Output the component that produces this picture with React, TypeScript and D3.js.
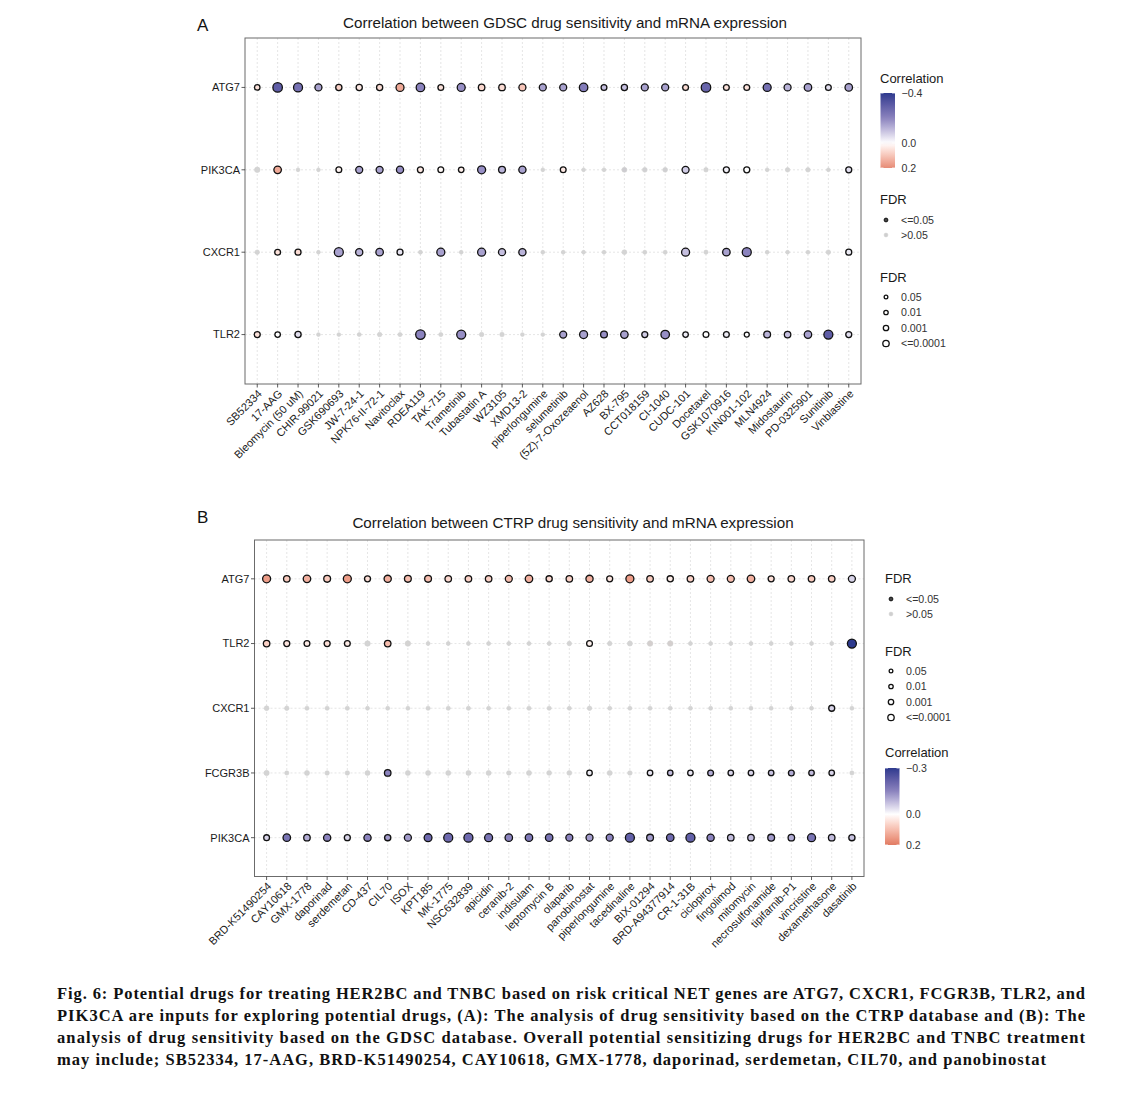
import React from 'react';
import * as d3 from 'd3';

// ---------- panel A : GDSC ----------
const gdscGenes = ['ATG7', 'PIK3CA', 'CXCR1', 'TLR2'];
const gdscDrugs = [
  'SB52334', '17-AAG', 'Bleomycin (50 uM)', 'CHIR-99021', 'GSK690693', 'JW-7-24-1',
  'NPK76-II-72-1', 'Navitoclax', 'RDEA119', 'TAK-715', 'Trametinib', 'Tubastatin A',
  'WZ3105', 'XMD13-2', 'piperlongumine', 'selumetinib', '(5Z)-7-Oxozeaenol', 'AZ628',
  'BX-795', 'CCT018159', 'CI-1040', 'CUDC-101', 'Docetaxel', 'GSK1070916',
  'KIN001-102', 'MLN4924', 'Midostaurin', 'PD-0325901', 'Sunitinib', 'Vinblastine',
];
// correlation, one row per gene (same order as gdscGenes)
const gdscCor = [
  [0.05, -0.3, -0.25, -0.15, 0.08, 0.04, 0.06, 0.15, -0.2, 0.05, -0.18, 0.07, 0.06, 0.1, -0.15, -0.15, -0.22, -0.1, -0.1, -0.15, -0.15, 0.06, -0.28, 0.05, 0.05, -0.25, -0.12, -0.15, -0.05, -0.15],
  [0, 0.15, 0, 0, 0.02, -0.15, -0.15, -0.18, 0.04, 0.01, 0.03, -0.18, -0.12, -0.15, 0, 0.04, 0, 0, -0.05, -0.02, -0.03, -0.08, 0, -0.02, 0, 0, 0, 0, 0, -0.05],
  [0, 0.05, 0.06, 0, -0.15, -0.12, -0.15, -0.04, 0, -0.15, 0, -0.15, -0.1, -0.12, 0, 0, 0, 0, 0, 0, 0, -0.1, 0, -0.15, -0.2, 0, 0, 0, 0, -0.03],
  [0.05, 0, -0.05, 0, 0, 0, 0, 0, -0.2, 0, -0.18, 0, 0, 0, 0, -0.15, -0.15, -0.18, -0.15, -0.08, -0.18, -0.03, 0, -0.03, 0, -0.12, -0.1, -0.15, -0.3, -0.05],
];
// -log10(FDR), drives the point size
const gdscLogFdr = [
  [2.5, 6.5, 6, 4, 3.2, 3.2, 3.2, 5, 5.5, 2.8, 5, 3.5, 3.5, 4, 4, 4, 5.5, 2.8, 3.2, 4, 4, 2.8, 6.5, 2.8, 2.8, 5, 4, 4.5, 2.8, 4.5],
  [2.5, 4.5, 0.8, 0.8, 2.8, 4, 4, 4.2, 3, 2.8, 2.5, 5, 3.8, 4.2, 0.8, 2.8, 0.8, 0.8, 2, 1.8, 1.8, 4, 1.5, 3, 3, 0.8, 1.5, 1.5, 0.8, 3],
  [1.5, 2.8, 3, 0.8, 6, 4.2, 4.5, 3, 1, 5, 0.8, 5, 4, 4.2, 0.8, 0.8, 0.8, 0.8, 1.8, 1, 1, 5, 1.2, 4.5, 6, 0.8, 0.8, 0.8, 1.5, 3],
  [3, 2.5, 3.2, 0.8, 0.8, 1, 1.5, 1.2, 6.5, 1.2, 6, 1.5, 1.5, 0.8, 0.8, 4, 5, 3.8, 4.5, 3, 5.5, 2.5, 2.8, 2.8, 2, 3.8, 3.5, 4.5, 6, 3],
];
// 1 = FDR <= 0.05
const gdscSig = [
  '111111111111111111111111111111',
  '010011111111110100000101100001',
  '011011110101110000000101100001',
  '111000001010000111111111111111',
];

// ---------- panel B : CTRP ----------
const ctrpGenes = ['ATG7', 'TLR2', 'CXCR1', 'FCGR3B', 'PIK3CA'];
const ctrpDrugs = [
  'BRD-K51490254', 'CAY10618', 'GMX-1778', 'daporinad', 'serdemetan', 'CD-437', 'CIL70',
  'ISOX', 'KPT185', 'MK-1775', 'NSC632839', 'apicidin', 'ceranib-2', 'indisulam',
  'leptomycin B', 'olaparib', 'panobinostat', 'piperlongumine', 'tacedinaline', 'BIX-01294',
  'BRD-A94377914', 'CR-1-31B', 'ciclopirox', 'fingolimod', 'mitomycin', 'necrosulfonamide',
  'tipifarnib-P1', 'vincristine', 'dexamethasone', 'dasatinib',
];
const ctrpCor = [
  [0.15, 0.08, 0.12, 0.08, 0.15, 0.05, 0.12, 0.1, 0.1, 0.06, 0.07, 0.07, 0.1, 0.12, 0.06, 0.07, 0.12, 0.04, 0.15, 0.08, 0.03, 0.07, 0.1, 0.1, 0.12, 0.05, 0.06, 0.08, 0.07, -0.05],
  [0.07, 0.04, 0.03, 0.05, 0.03, 0, 0.1, 0.01, 0, 0, 0, 0, 0, 0, 0, 0, 0.02, 0, 0, 0.03, 0.03, 0, 0, 0, 0, 0, 0, 0, 0, -0.3],
  [0, 0, 0, 0, 0, 0, 0, 0, 0, 0, 0, 0, 0, 0, 0, 0, 0, 0, 0, 0, 0, 0, 0, 0, 0, 0, 0, 0, -0.05, 0],
  [0, 0, 0, 0, 0, 0, -0.15, 0, 0, 0, 0, 0, 0, 0, 0, 0, -0.02, 0, 0, -0.03, -0.08, -0.03, -0.1, -0.05, -0.05, -0.07, -0.1, -0.08, -0.05, 0],
  [-0.05, -0.18, -0.1, -0.15, -0.05, -0.15, -0.12, -0.12, -0.2, -0.2, -0.2, -0.18, -0.15, -0.17, -0.18, -0.15, -0.12, -0.15, -0.22, -0.12, -0.2, -0.22, -0.15, -0.08, -0.08, -0.12, -0.1, -0.18, -0.08, -0.07],
];
const ctrpLogFdr = [
  [5, 3.5, 4.5, 3.8, 5, 3, 4.2, 3.8, 3.8, 3.5, 3.5, 3.5, 4, 4.5, 3.2, 3.5, 4.2, 3, 5, 3.5, 3.2, 3.5, 4, 4, 4.5, 3, 3.5, 3.5, 3.5, 4],
  [3.5, 3, 2.8, 3, 2.8, 2.5, 3.5, 2.5, 1, 1, 1, 1, 1, 1, 1, 1.5, 2.8, 1.5, 2, 2.5, 2.5, 1, 1, 1, 1, 1, 1, 1, 1, 6],
  [1.8, 1.5, 1.2, 1.2, 1.2, 1, 1, 1, 1.2, 1.2, 1.2, 1, 1, 1.2, 1.2, 1, 1.5, 1, 1, 1, 1, 1, 1, 1, 1, 1, 1, 1, 3, 1],
  [2.2, 1.2, 2, 1.5, 1.5, 2, 3.5, 2, 2, 2, 2, 2, 1.5, 2, 1.8, 1.8, 2.5, 2, 1.5, 2.5, 2.5, 2.5, 2.8, 2.5, 2.5, 2.5, 2.8, 2.5, 2.5, 1.2],
  [2.8, 4.5, 3.5, 4.2, 3, 4.2, 3.2, 4, 4.8, 6, 6, 5, 4.5, 4.5, 4.5, 4, 4, 4, 6, 3.8, 4.5, 6, 4.2, 3.5, 3.5, 3.8, 3.5, 5, 3.5, 3.2],
];
const ctrpSig = [
  '111111111111111111111111111111',
  '111110100000000010000000000001',
  '000000000000000000000000000010',
  '000000100000000010011111111110',
  '111111111111111111111111111111',
];

const sizeLabels = ['0.05', '0.01', '0.001', '<=0.0001'];
const sizeValues = [1.3, 2, 3, 4];
const sigLabels = ['<=0.05', '>0.05'];

const captionLines = [
  'Fig. 6: Potential drugs for treating HER2BC and TNBC based on risk critical NET genes are ATG7, CXCR1, FCGR3B, TLR2, and',
  'PIK3CA are inputs for exploring potential drugs, (A): The analysis of drug sensitivity based on the CTRP database and (B): The',
  'analysis of drug sensitivity based on the GDSC database. Overall potential sensitizing drugs for HER2BC and TNBC treatment',
  'may include; SB52334, 17-AAG, BRD-K51490254, CAY10618, GMX-1778, daporinad, serdemetan, CIL70, and panobinostat',
];
const captionWidths = [1028, 1028, 1028, 989];

const FONT = 'Liberation Sans, Arial, Helvetica, sans-serif';
const rScale = d3.scaleLinear().domain([0, 8]).range([1.5, 5.5]).clamp(true);

const colorA = d3.scaleLinear<string>()
  .domain([-0.4, -0.2, 0, 0.2])
  .range(['#2D3A8E', '#8B83BE', '#FFFFFF', '#E68C77'])
  .interpolate(d3.interpolateLab);
const colorB = d3.scaleLinear<string>()
  .domain([-0.3, -0.15, 0, 0.2])
  .range(['#2D3A8E', '#8B83BE', '#FFFFFF', '#E17A62'])
  .interpolate(d3.interpolateLab);

interface Box { left: number; right: number; top: number; bottom: number }

function DotPanel(props: {
  drugs: string[]; genes: string[]; cor: number[][]; logFdr: number[][]; sig: string[];
  box: Box; color: (v: number) => string;
}) {
  const { drugs, genes, cor, logFdr, sig, box, color } = props;
  const x = d3.scalePoint<string>().domain(drugs).range([box.left, box.right]).padding(0.6);
  const y = d3.scalePoint<string>().domain(genes).range([box.top, box.bottom]).padding(0.6);
  return (
    <g fontFamily={FONT}>
      {drugs.map(d => (
        <line key={'vx' + d} x1={x(d)} x2={x(d)} y1={box.top} y2={box.bottom}
          stroke="#d4d4d4" strokeWidth={0.6} strokeDasharray="2,2" />
      ))}
      {genes.map(g => (
        <line key={'hy' + g} x1={box.left} x2={box.right} y1={y(g)} y2={y(g)}
          stroke="#d4d4d4" strokeWidth={0.6} strokeDasharray="2,2" />
      ))}
      <rect x={box.left} y={box.top} width={box.right - box.left} height={box.bottom - box.top}
        fill="none" stroke="#6b6b6b" strokeWidth={1} />
      {genes.map((g, gi) => drugs.map((d, di) => {
        const s = sig[gi][di] === '1';
        const c = cor[gi][di];
        const r = rScale(logFdr[gi][di]);
        return s ? (
          <circle key={g + d} cx={x(d)} cy={y(g)} r={r} fill={color(c)} stroke="#111" strokeWidth={1.3} />
        ) : (
          <circle key={g + d} cx={x(d)} cy={y(g)} r={r}
            fill={d3.interpolateRgb('#c6c6c6', color(c))(0.25)} stroke="#d0d0d0" strokeWidth={0.6} />
        );
      }))}
      {genes.map(g => (
        <g key={'yt' + g}>
          <line x1={box.left - 3.5} x2={box.left} y1={y(g)} y2={y(g)} stroke="#333" strokeWidth={0.8} />
          <text x={box.left - 5} y={y(g)} dy="0.35em" textAnchor="end" fontSize={11} fill="#1a1a1a">{g}</text>
        </g>
      ))}
      {drugs.map(d => (
        <g key={'xt' + d}>
          <line x1={x(d)} x2={x(d)} y1={box.bottom} y2={box.bottom + 3.5} stroke="#333" strokeWidth={0.8} />
          <text transform={`translate(${x(d)},${box.bottom + 5}) rotate(-45)`} dy="0.7em"
            textAnchor="end" fontSize={11} fill="#1a1a1a">{d}</text>
        </g>
      ))}
    </g>
  );
}

function ColorBar(props: { id: string; x: number; y: number; h: number; color: any; lo: number; hi: number; ticks: number[] }) {
  const { id, x, y, h, color, lo, hi, ticks } = props;
  const s = d3.scaleLinear().domain([lo, hi]).range([y, y + h]);
  const stops = d3.range(0, 21).map(i => lo + (hi - lo) * i / 20);
  return (
    <g fontFamily={FONT}>
      <defs>
        <linearGradient id={id} x1="0" x2="0" y1="0" y2="1">
          {stops.map((v, i) => <stop key={i} offset={`${i * 5}%`} stopColor={color(v)} />)}
        </linearGradient>
      </defs>
      <rect x={x} y={y} width={14.5} height={h} fill={`url(#${id})`} />
      {ticks.map(t => (
        <g key={t}>
          <line x1={x} x2={x + 3} y1={s(t)} y2={s(t)} stroke="#fff" strokeWidth={0.8} />
          <line x1={x + 11.5} x2={x + 14.5} y1={s(t)} y2={s(t)} stroke="#fff" strokeWidth={0.8} />
          <text x={x + 21} y={s(t)} dy="0.35em" fontSize={10.6} fill="#333">
            {t < 0 ? '\u2212' + Math.abs(t).toFixed(1) : t.toFixed(1)}
          </text>
        </g>
      ))}
    </g>
  );
}

function SigLegend(props: { x: number; y: number }) {
  const { x, y } = props;
  return (
    <g fontFamily={FONT}>
      <text x={x} y={y} fontSize={13} fill="#1a1a1a">FDR</text>
      {sigLabels.map((l, i) => (
        <g key={l}>
          <circle cx={x + 6} cy={y + 16 + i * 15} r={1.9}
            fill={i === 0 ? '#444' : '#cfcfcf'} stroke={i === 0 ? '#111' : '#d0d0d0'} strokeWidth={i === 0 ? 1 : 0.6} />
          <text x={x + 21} y={y + 16 + i * 15} dy="0.35em" fontSize={10.6} fill="#333">{l}</text>
        </g>
      ))}
    </g>
  );
}

function SizeLegend(props: { x: number; y: number }) {
  const { x, y } = props;
  return (
    <g fontFamily={FONT}>
      <text x={x} y={y} fontSize={13} fill="#1a1a1a">FDR</text>
      {sizeLabels.map((l, i) => (
        <g key={l}>
          <circle cx={x + 6} cy={y + 15 + i * 15.5} r={rScale(sizeValues[i]) - 0.3}
            fill="#fff" stroke="#111" strokeWidth={1.3} />
          <text x={x + 21} y={y + 15 + i * 15.5} dy="0.35em" fontSize={10.6} fill="#333">{l}</text>
        </g>
      ))}
    </g>
  );
}

const boxA: Box = { left: 245, right: 861, top: 38, bottom: 384 };
const boxB: Box = { left: 254.5, right: 864, top: 540, bottom: 876.5 };

export default function App() {
  return (
    <svg width={1131} height={1095} style={{ position: 'absolute', left: 0, top: 0, background: '#fff' }}>
      <rect width={1131} height={1095} fill="#fff" />
      {/* panel A */}
      <text x={197} y={31} fontFamily={FONT} fontSize={17} fill="#111">A</text>
      <text x={565} y={28} textAnchor="middle" fontFamily={FONT} fontSize={15.2} fill="#1a1a1a">
        Correlation between GDSC drug sensitivity and mRNA expression
      </text>
      <DotPanel drugs={gdscDrugs} genes={gdscGenes} cor={gdscCor} logFdr={gdscLogFdr} sig={gdscSig} box={boxA} color={colorA} />
      <text x={880} y={83} fontFamily={FONT} fontSize={13} fill="#1a1a1a">Correlation</text>
      <ColorBar id="gradA" x={880.5} y={93} h={75} color={colorA} lo={-0.4} hi={0.2} ticks={[-0.4, 0, 0.2]} />
      <SigLegend x={880} y={204} />
      <SizeLegend x={880} y={282} />

      {/* panel B */}
      <text x={197} y={523} fontFamily={FONT} fontSize={17} fill="#111">B</text>
      <text x={573} y={528} textAnchor="middle" fontFamily={FONT} fontSize={15.2} fill="#1a1a1a">
        Correlation between CTRP drug sensitivity and mRNA expression
      </text>
      <DotPanel drugs={ctrpDrugs} genes={ctrpGenes} cor={ctrpCor} logFdr={ctrpLogFdr} sig={ctrpSig} box={boxB} color={colorB} />
      <SigLegend x={885} y={583} />
      <SizeLegend x={885} y={656} />
      <text x={885} y={757} fontFamily={FONT} fontSize={13} fill="#1a1a1a">Correlation</text>
      <ColorBar id="gradB" x={885} y={768} h={77} color={colorB} lo={-0.3} hi={0.2} ticks={[-0.3, 0, 0.2]} />

      {/* caption */}
      {captionLines.map((l, i) => (
        <text key={i} x={57} y={999 + i * 22} fontFamily="Liberation Serif, 'Times New Roman', serif"
          fontWeight="bold" fontSize={16.5} fill="#111" textLength={captionWidths[i]} lengthAdjust="spacing">
          {l}
        </text>
      ))}
    </svg>
  );
}
